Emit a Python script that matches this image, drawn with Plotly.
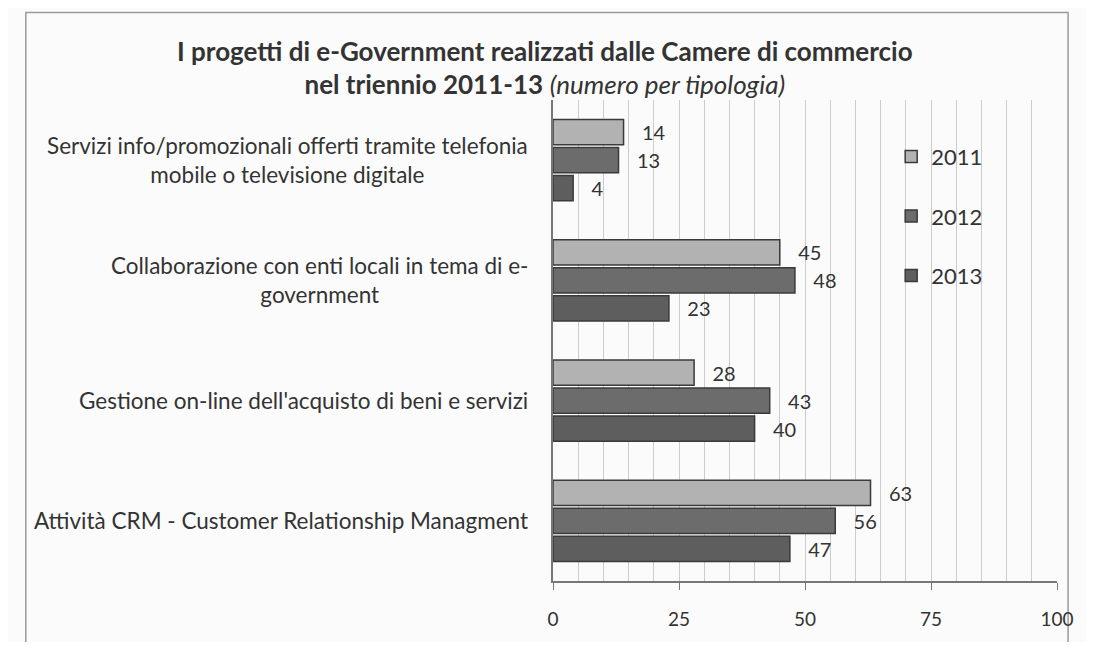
import plotly.graph_objects as go

# ── Dati ──────────────────────────────────────────────────────────────
categories = [
    "Servizi info/promozionali offerti tramite telefonia<br>mobile o televisione digitale",
    "Collaborazione con enti locali in tema di e-<br>government",
    "Gestione on-line dell'acquisto di beni e servizi",
    "Attività CRM - Customer Relationship Managment",
]
years = ["2011", "2012", "2013"]
values_2011 = [14, 45, 28, 63]
values_2012 = [13, 48, 43, 56]
values_2013 = [4, 23, 40, 47]
x_ticks = [0, 25, 50, 75, 100]

series = {"2011": values_2011, "2012": values_2012, "2013": values_2013}
colors = {"2011": "#b2b2b2", "2012": "#6c6c6c", "2013": "#5e5e5e"}

FONT = "Lato, Open Sans, sans-serif"
TXT = "#333333"

fig = go.Figure()

for yr in years:
    fig.add_trace(go.Bar(
        y=categories,
        x=series[yr],
        orientation="h",
        name=yr,
        legendgroup=yr,
        marker=dict(color=colors[yr], line=dict(color="#3a3a3a", width=1.5)),
        text=series[yr],
        texttemplate="   %{x}",
        textposition="outside",
        constraintext="none",
        textfont=dict(size=20, color=TXT, family=FONT),
        cliponaxis=False,
    ))

# etichette delle categorie (centrate su più righe, come nell'originale)
for cat in categories:
    fig.add_annotation(
        x=0, y=cat, xref="x", yref="y",
        text=cat, showarrow=False,
        xanchor="right", yanchor="middle", align="center",
        xshift=-23,
        font=dict(size=22.5, color=TXT, family=FONT),
    )

# cornice esterna
fig.add_shape(
    type="rect", xref="paper", yref="paper",
    x0=-1.046, x1=1.022, y0=-0.25, y1=1.182,
    line=dict(color="#9a9a9a", width=1.5),
    fillcolor="rgba(0,0,0,0)", layer="below",
)

# la pagina html ha un margine di 8px: figura ridotta per evitare scrollbar
fig.update_layout(
    width=1078,
    height=634,
    margin=dict(l=545, r=13, t=92, b=53),
    paper_bgcolor="#fbfbfb",
    plot_bgcolor="#fbfbfb",
    barmode="group",
    bargap=0.30,
    bargroupgap=0.10,
    title=dict(
        text="<b>I progetti di e-Government realizzati dalle Camere di commercio</b><br>"
             "<b>nel triennio 2011-13</b> <i>(numero per tipologia)</i>",
        x=0.498, xref="container", xanchor="center",
        y=0.917, yref="container", yanchor="top",
        font=dict(size=26, color=TXT, family=FONT),
    ),
    legend=dict(
        x=0.671, y=0.926, xanchor="left", yanchor="top",
        bgcolor="rgba(0,0,0,0)",
        font=dict(size=22, color=TXT, family=FONT),
        tracegroupgap=28,
        itemwidth=30,
    ),
    xaxis=dict(
        range=[0, 100],
        tickvals=x_ticks,
        ticks="outside", ticklen=7, tickcolor="#777777",
        ticklabelstandoff=13,
        ticklabeloverflow="allow",
        tickfont=dict(size=19, color=TXT, family=FONT),
        showgrid=True, gridcolor="#cccccc", gridwidth=1,
        minor=dict(dtick=5, showgrid=True, gridcolor="#cccccc", gridwidth=1),
        showline=True, linecolor="#777777", linewidth=1.5,
        zeroline=False,
        fixedrange=True,
    ),
    yaxis=dict(
        autorange="reversed",
        showticklabels=False,
        showline=True, linecolor="#777777", linewidth=1.5,
        showgrid=False,
        fixedrange=True,
    ),
    font=dict(family=FONT, color=TXT),
    showlegend=True,
)

fig.write_html("out.html", config={"displayModeBar": False})
